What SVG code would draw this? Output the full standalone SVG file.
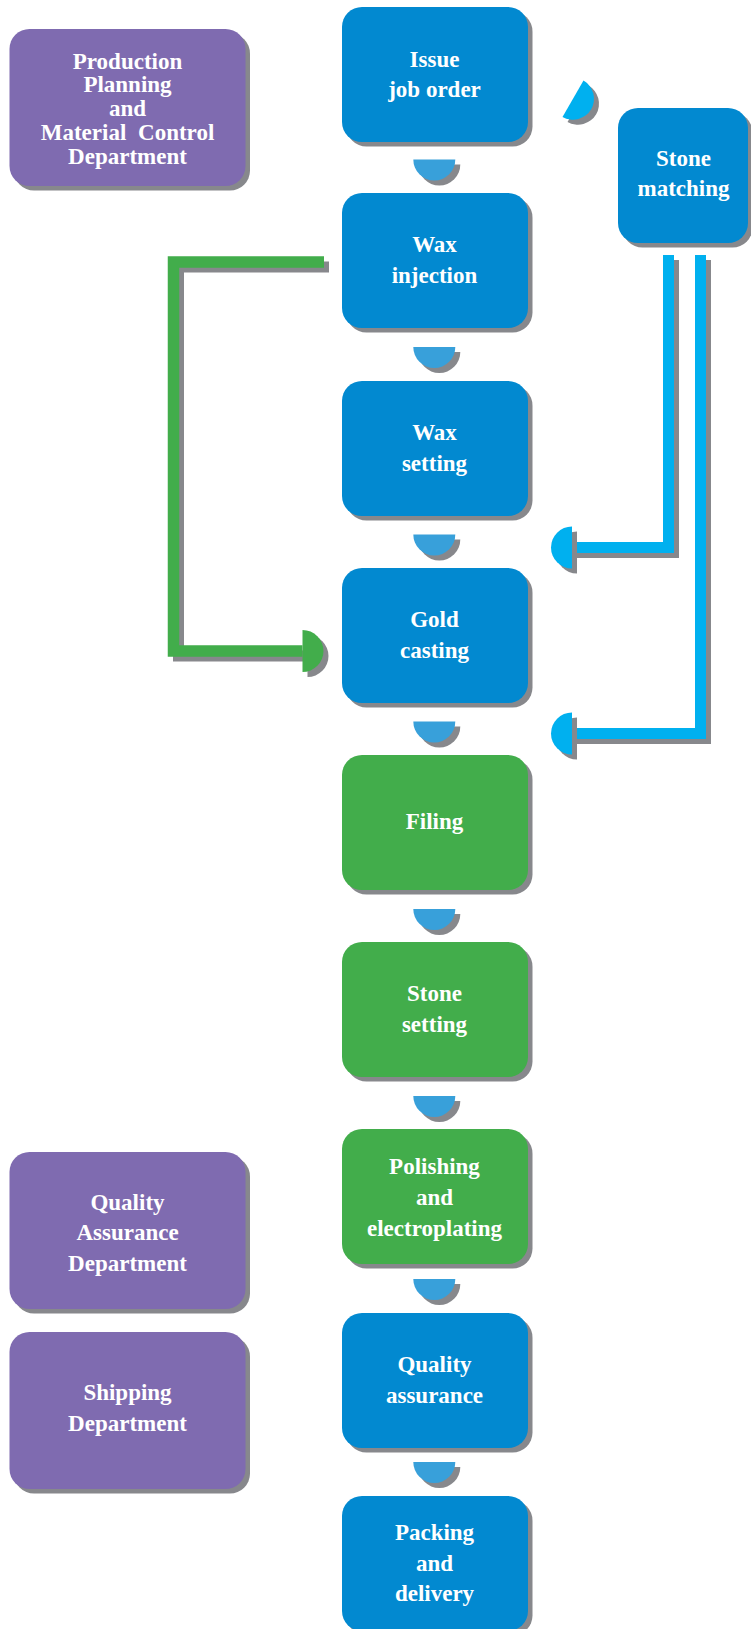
<svg xmlns="http://www.w3.org/2000/svg" xmlns:xlink="http://www.w3.org/1999/xlink" width="751" height="1629" viewBox="0 0 751 1629">
<style>
.sh{fill:#87888c}
.blue{fill:#0289d0}
.green{fill:#42ad4b}
.purple{fill:#7f6bb0}
.conn{fill:#38a0da}
.cy{fill:#00b0ef}
.gr{fill:#42ad4b}
.t{font-family:"Liberation Serif","Times New Roman",serif;font-weight:bold;font-size:23px;fill:#ffffff;text-anchor:middle}
.lsh{fill:none;stroke:#87888c;stroke-width:11;stroke-linejoin:miter}
.lcy{fill:none;stroke:#00b0ef;stroke-width:11;stroke-linejoin:miter}
.lgr{fill:none;stroke:#42ad4b;stroke-width:11.5;stroke-linejoin:miter}
</style>
<defs>
<path id="half" d="M-21,0 A21,21 0 0 0 21,0 Z"/>
<rect id="box" x="0" y="0" width="186" height="135" rx="20" ry="20"/>
<rect id="pbox" x="0" y="0" width="236" height="157" rx="20" ry="20"/>
</defs>
<rect x="0" y="0" width="751" height="1629" fill="#ffffff"/>

<g id="connectors">
  <!-- vertical flow connectors -->
  <g>
    <use xlink:href="#half" class="sh" transform="translate(439.3,164.5)"/><use xlink:href="#half" class="conn" transform="translate(434.3,159.5)"/>
    <use xlink:href="#half" class="sh" transform="translate(439.3,352)"/><use xlink:href="#half" class="conn" transform="translate(434.3,347)"/>
    <use xlink:href="#half" class="sh" transform="translate(439.3,539.5)"/><use xlink:href="#half" class="conn" transform="translate(434.3,534.5)"/>
    <use xlink:href="#half" class="sh" transform="translate(439.3,726.5)"/><use xlink:href="#half" class="conn" transform="translate(434.3,721.5)"/>
    <use xlink:href="#half" class="sh" transform="translate(439.3,914)"/><use xlink:href="#half" class="conn" transform="translate(434.3,909)"/>
    <use xlink:href="#half" class="sh" transform="translate(439.3,1101)"/><use xlink:href="#half" class="conn" transform="translate(434.3,1096)"/>
    <use xlink:href="#half" class="sh" transform="translate(439.3,1284)"/><use xlink:href="#half" class="conn" transform="translate(434.3,1279)"/>
    <use xlink:href="#half" class="sh" transform="translate(439.3,1467)"/><use xlink:href="#half" class="conn" transform="translate(434.3,1462)"/>
  </g>
  <!-- issue -> stone matching -->
  <use xlink:href="#half" class="sh" transform="translate(578,103.7) rotate(-60)"/>
  <use xlink:href="#half" class="cy" transform="translate(573,98.7) rotate(-60)"/>
  <!-- green: wax injection -> gold casting -->
  <path class="lsh" d="M329,267 H178.5 V656 H307.5"/>
  <path class="lgr" d="M324,262 H173.5 V651 H302.5"/>
  <use xlink:href="#half" class="sh" transform="translate(307.5,656) rotate(-90)"/>
  <use xlink:href="#half" class="gr" transform="translate(302.5,651) rotate(-90)"/>
  <!-- cyan: stone matching -> gold casting -->
  <path class="lsh" d="M673.5,260 V552.5 H577"/>
  <path class="lcy" d="M668.5,255 V547.5 H572"/>
  <use xlink:href="#half" class="sh" transform="translate(577,552.5) rotate(90)"/>
  <use xlink:href="#half" class="cy" transform="translate(572,547.5) rotate(90)"/>
  <!-- cyan: stone matching -> filing -->
  <path class="lsh" d="M705.5,260 V738.5 H577"/>
  <path class="lcy" d="M700.5,255 V733.5 H572"/>
  <use xlink:href="#half" class="sh" transform="translate(577,738.5) rotate(90)"/>
  <use xlink:href="#half" class="cy" transform="translate(572,733.5) rotate(90)"/>
</g>

<g id="ppmc">
  <use xlink:href="#pbox" class="sh" transform="translate(14,33.5)"/>
  <use xlink:href="#pbox" class="purple" transform="translate(9.5,29)"/>
  <text class="t" x="127.5" y="69">Production</text>
  <text class="t" x="127.5" y="91.5">Planning</text>
  <text class="t" x="127.5" y="115.5">and</text>
  <text class="t" x="127.5" y="140" word-spacing="6">Material Control</text>
  <text class="t" x="127.5" y="163.5">Department</text>
</g>

<g id="qadept">
  <use xlink:href="#pbox" class="sh" transform="translate(14,1156.5)"/>
  <use xlink:href="#pbox" class="purple" transform="translate(9.5,1152)"/>
  <text class="t" x="127.5" y="1209.5">Quality</text>
  <text class="t" x="127.5" y="1240">Assurance</text>
  <text class="t" x="127.5" y="1270.5">Department</text>
</g>

<g id="shipdept">
  <use xlink:href="#pbox" class="sh" transform="translate(14,1336.5)"/>
  <use xlink:href="#pbox" class="purple" transform="translate(9.5,1332)"/>
  <text class="t" x="127.5" y="1400">Shipping</text>
  <text class="t" x="127.5" y="1431">Department</text>
</g>

<g id="issue">
  <use xlink:href="#box" class="sh" transform="translate(346.5,11.5)"/>
  <use xlink:href="#box" class="blue" transform="translate(342,7)"/>
  <text class="t" x="434.5" y="66.5">Issue</text>
  <text class="t" x="434.5" y="97">job order</text>
</g>

<g id="stonematching">
  <rect class="sh" x="622.5" y="112.5" width="130" height="135" rx="20"/>
  <rect class="blue" x="618" y="108" width="130" height="135" rx="20"/>
  <text class="t" x="683.5" y="165.7">Stone</text>
  <text class="t" x="683.5" y="196">matching</text>
</g>

<g id="waxinjection">
  <use xlink:href="#box" class="sh" transform="translate(346.5,197.5)"/>
  <use xlink:href="#box" class="blue" transform="translate(342,193)"/>
  <text class="t" x="434.5" y="251.7">Wax</text>
  <text class="t" x="434.5" y="282.7">injection</text>
</g>

<g id="waxsetting">
  <use xlink:href="#box" class="sh" transform="translate(346.5,385.5)"/>
  <use xlink:href="#box" class="blue" transform="translate(342,381)"/>
  <text class="t" x="434.5" y="440">Wax</text>
  <text class="t" x="434.5" y="471">setting</text>
</g>

<g id="goldcasting">
  <use xlink:href="#box" class="sh" transform="translate(346.5,572.5)"/>
  <use xlink:href="#box" class="blue" transform="translate(342,568)"/>
  <text class="t" x="434.5" y="627">Gold</text>
  <text class="t" x="434.5" y="658">casting</text>
</g>

<g id="filing">
  <use xlink:href="#box" class="sh" transform="translate(346.5,759.5)"/>
  <use xlink:href="#box" class="green" transform="translate(342,755)"/>
  <text class="t" x="434.5" y="829">Filing</text>
</g>

<g id="stonesetting">
  <use xlink:href="#box" class="sh" transform="translate(346.5,946.5)"/>
  <use xlink:href="#box" class="green" transform="translate(342,942)"/>
  <text class="t" x="434.5" y="1001">Stone</text>
  <text class="t" x="434.5" y="1032">setting</text>
</g>

<g id="polishing">
  <use xlink:href="#box" class="sh" transform="translate(346.5,1133.5)"/>
  <use xlink:href="#box" class="green" transform="translate(342,1129)"/>
  <text class="t" x="434.5" y="1174">Polishing</text>
  <text class="t" x="434.5" y="1205">and</text>
  <text class="t" x="434.5" y="1235.5">electroplating</text>
</g>

<g id="qualityassurance">
  <use xlink:href="#box" class="sh" transform="translate(346.5,1317.5)"/>
  <use xlink:href="#box" class="blue" transform="translate(342,1313)"/>
  <text class="t" x="434.5" y="1372">Quality</text>
  <text class="t" x="434.5" y="1403">assurance</text>
</g>

<g id="packing">
  <use xlink:href="#box" class="sh" transform="translate(346.5,1500.5)"/>
  <use xlink:href="#box" class="blue" transform="translate(342,1496)"/>
  <text class="t" x="434.5" y="1540">Packing</text>
  <text class="t" x="434.5" y="1571">and</text>
  <text class="t" x="434.5" y="1601">delivery</text>
</g>
</svg>
